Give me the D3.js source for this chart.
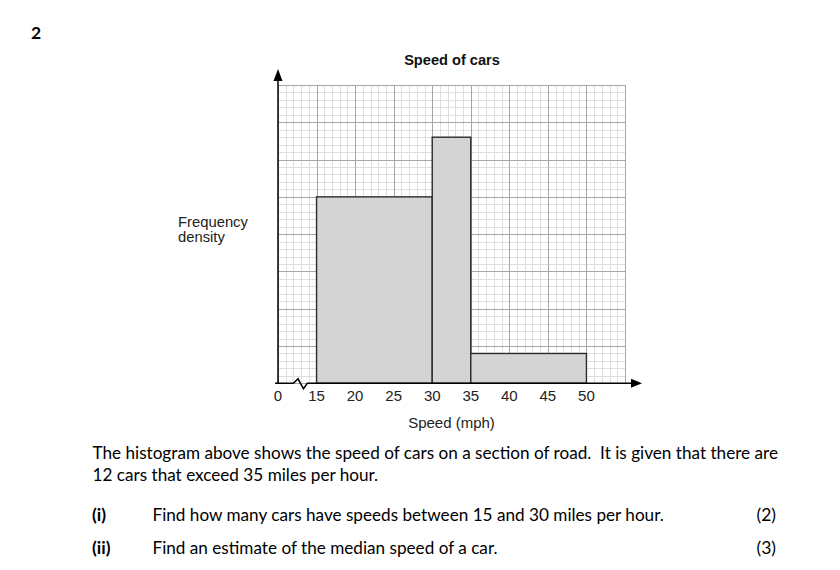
<!DOCTYPE html>
<html>
<head>
<meta charset="utf-8">
<script src="https://cdn.jsdelivr.net/npm/d3@7"></script>
<style>
  html, body { margin: 0; padding: 0; background: #fff; }
  svg { display: block; }
  text { white-space: pre; }
</style>
</head>
<body>
<svg id="chart" width="840" height="570"></svg>
<script>
// ---------- data ----------
const binStarts = [15, 30, 35];
const binEnds = [30, 35, 50];
const freqDensity = [5, 6.6, 0.8];
const xTickValues = [10, 15, 20, 25, 30, 35, 40, 45, 50];
const xTickLabels = ["0", "15", "20", "25", "30", "35", "40", "45", "50"];
const chartTitle = "Speed of cars";
const xAxisTitle = "Speed (mph)";
const yAxisTitle = ["Frequency", "density"];
const questionNumber = "2";
const paragraphLines = [
  "The histogram above shows the speed of cars on a section of road.  It is given that there are",
  "12 cars that exceed 35 miles per hour."
];
const partLabels = ["(i)", "(ii)"];
const partTexts = [
  "Find how many cars have speeds between 15 and 30 miles per hour.",
  "Find an estimate of the median speed of a car."
];
const partMarks = ["(2)", "(3)"];

// ---------- layout ----------
const svg = d3.select("#chart");
const x = d3.scaleLinear().domain([10, 55]).range([278, 625]);
const y = d3.scaleLinear().domain([0, 8]).range([383.3, 85]);
const chartFont = "'Liberation Sans', Arial, sans-serif";
const textFont = "Lato, 'Open Sans', sans-serif";

// grid
const grid = svg.append("g");
const minorX = d3.range(10, 55.01, 1).filter(v => v % 5 !== 0);
const majorX = d3.range(10, 55.01, 5);
const minorY = d3.range(0, 8.001, 0.2).map(v => +v.toFixed(1)).filter(v => Math.abs(v - Math.round(v)) > 1e-6);
const majorY = d3.range(0, 8.001, 1);

grid.selectAll(".mx").data(minorX).join("line")
  .attr("x1", d => Math.round(x(d)) + 0.5).attr("x2", d => Math.round(x(d)) + 0.5)
  .attr("y1", y(8)).attr("y2", y(0))
  .attr("stroke", "#dedede").attr("stroke-width", 1);
grid.selectAll(".my").data(minorY).join("line")
  .attr("y1", d => Math.round(y(d)) + 0.5).attr("y2", d => Math.round(y(d)) + 0.5)
  .attr("x1", x(10)).attr("x2", x(55))
  .attr("stroke", "#dedede").attr("stroke-width", 1);
grid.selectAll(".Mx").data(majorX).join("line")
  .attr("x1", d => Math.round(x(d)) + 0.5).attr("x2", d => Math.round(x(d)) + 0.5)
  .attr("y1", y(8)).attr("y2", y(0))
  .attr("stroke", "#a6a6a6").attr("stroke-width", 1);
grid.selectAll(".My").data(majorY).join("line")
  .attr("y1", d => Math.round(y(d)) + 0.5).attr("y2", d => Math.round(y(d)) + 0.5)
  .attr("x1", x(10)).attr("x2", x(55))
  .attr("stroke", "#a6a6a6").attr("stroke-width", 1);

// bars
const bins = binStarts.map((s, i) => ({ s, e: binEnds[i], v: freqDensity[i] }));
svg.append("g").selectAll("rect").data(bins).join("rect")
  .attr("x", d => x(d.s))
  .attr("y", d => y(d.v))
  .attr("width", d => x(d.e) - x(d.s))
  .attr("height", d => y(0) - y(d.v))
  .attr("fill", "#d4d4d4")
  .attr("stroke", "#2b2b2b")
  .attr("stroke-width", 1.4);

// axes
const axes = svg.append("g").attr("stroke", "#000").attr("fill", "none").attr("stroke-width", 1.5);
axes.append("line").attr("x1", x(10)).attr("x2", x(10)).attr("y1", y(0)).attr("y2", 76);
svg.append("path")
  .attr("d", `M${x(10)},69 L${x(10) - 4.5},81 L${x(10) + 4.5},81 Z`)
  .attr("fill", "#000");
const zig = [
  [x(10) - 3, y(0)], [x(12), y(0)], [x(12.6), y(0) - 4.5],
  [x(13.3), y(0) + 5.5], [x(13.8), y(0)], [634, y(0)]
];
axes.append("path").attr("d", d3.line()(zig));
svg.append("path")
  .attr("d", `M642,${y(0)} L631,${y(0) - 4.5} L631,${y(0) + 4.5} Z`)
  .attr("fill", "#000");

// x tick labels
svg.append("g").selectAll("text").data(xTickValues).join("text")
  .attr("x", d => x(d))
  .attr("y", 401)
  .attr("text-anchor", "middle")
  .attr("font-family", chartFont)
  .attr("font-size", 15)
  .attr("fill", "#222")
  .text((d, i) => xTickLabels[i]);

// titles
svg.append("text").attr("x", 452).attr("y", 65)
  .attr("text-anchor", "middle").attr("font-family", chartFont)
  .attr("font-size", 14.6).attr("font-weight", "bold").attr("fill", "#111")
  .text(chartTitle);
svg.append("text").attr("x", 451.5).attr("y", 428)
  .attr("text-anchor", "middle").attr("font-family", chartFont)
  .attr("font-size", 15).attr("fill", "#222")
  .text(xAxisTitle);
svg.append("g").selectAll("text").data(yAxisTitle).join("text")
  .attr("x", 178).attr("y", (d, i) => 227 + i * 15)
  .attr("font-family", chartFont).attr("font-size", 14.8).attr("fill", "#222")
  .text(d => d);

// question text
svg.append("text").attr("x", 31).attr("y", 39)
  .attr("font-family", textFont).attr("font-size", 17.5).attr("font-weight", "bold")
  .attr("fill", "#000").text(questionNumber);

const para = svg.append("g").attr("font-family", textFont).attr("font-size", 17.5).attr("fill", "#000");
const pl = para.selectAll("text.pl").data(paragraphLines).join("text")
  .attr("class", "pl")
  .attr("x", 92.5).attr("y", (d, i) => 459 + i * 21.5)
  .text(d => d);
const pt = para.selectAll("text.pt").data(partTexts).join("text")
  .attr("class", "pt")
  .attr("x", 152.5).attr("y", (d, i) => 520.5 + i * 33)
  .text(d => d);
para.selectAll("text.lab").data(partLabels).join("text")
  .attr("x", 92).attr("y", (d, i) => 520.5 + i * 33)
  .attr("font-weight", "bold")
  .text(d => d);
para.selectAll("text.mk").data(partMarks).join("text")
  .attr("x", 776).attr("y", (d, i) => 520.5 + i * 33)
  .attr("text-anchor", "end")
  .text(d => d);

// fit widths to the reference's narrower font
const first = pl.nodes()[0];
const s = 685.5 / first.getComputedTextLength();
pl.each(function () {
  const w = this.getComputedTextLength() * s;
  d3.select(this).attr("textLength", w).attr("lengthAdjust", "spacingAndGlyphs");
});
pt.each(function () {
  const w = this.getComputedTextLength() * s;
  d3.select(this).attr("textLength", w).attr("lengthAdjust", "spacingAndGlyphs");
});
</script>
</body>
</html>
